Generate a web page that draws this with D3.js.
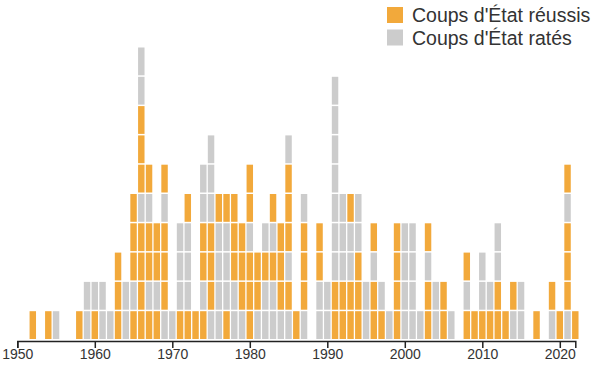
<!DOCTYPE html>
<html>
<head>
<meta charset="utf-8">
<script src="https://cdnjs.cloudflare.com/ajax/libs/d3/7.8.5/d3.min.js"></script>
<style>
  body { margin: 0; background: white; }
  svg { display: block; font-family: "Liberation Sans", Arial, sans-serif; }
</style>
</head>
<body>
<div id="main"></div>
<script>
// one entry per year, coups listed bottom to top: R = réussi, E = raté
var years = [1952, 1954, 1955, 1958, 1959, 1960, 1961, 1962, 1963, 1964,
             1965, 1966, 1967, 1968, 1969, 1970, 1971, 1972, 1973, 1974,
             1975, 1976, 1977, 1978, 1979, 1980, 1981, 1982, 1983, 1984,
             1985, 1986, 1987, 1989, 1990, 1991, 1992, 1993, 1994, 1995,
             1996, 1997, 1998, 1999, 2000, 2001, 2002, 2003, 2004, 2005,
             2006, 2008, 2009, 2010, 2011, 2012, 2013, 2014, 2015, 2017,
             2019, 2020, 2021, 2022];
var coups = ["R", "R", "E", "R", "EE", "RE", "EE", "E", "RRR", "EE",
             "RERRR", "RRRRERRREE", "RERRER", "RERR", "ERRRER", "E", "REEE", "REEER", "R", "RERREE",
             "ERRREEE", "EEEER", "REEER", "EERRR", "ERRR", "RRRERR", "ERR", "EERE", "EERER", "ERRR",
             "ERERRRE", "R", "ERRRE", "EERR", "EE", "RREEEEEEE", "RREEE", "RREER", "RRREE", "EE",
             "RRER", "RE", "E", "RRRR", "EEEE", "EEEE", "E", "RRER", "EE", "RR",
             "E", "RER", "R", "REE", "RE", "RREE", "R", "ER", "EE", "R",
             "ER", "R", "ERRRER", "R"];
var legendLabels = ["Coups d'État réussis", "Coups d'État ratés"];
var xTicks = [1950, 1960, 1970, 1980, 1990, 2000, 2010, 2020];

var width = 600,
    height = 372;
var colors = {R: "#f2a93b", E: "#cccccc"};

var svg = d3.select("#main")
  .append("svg")
  .attr("width", width)
  .attr("height", height);

var x = d3.scaleLinear().domain([1950, 2022]).range([17.3, 575.3]);
var y = d3.scaleLinear().domain([0, 10]).range([340.5, 47.5]);

/* one cell per coup */
var cells = [];
years.forEach(function(yr, ix){
  coups[ix].split("").forEach(function(c, row){
    cells.push({year: yr, row: row, type: c});
  });
});

var step = x(1951) - x(1950),
    cellW = step - 1.3;

svg.append("g")
  .selectAll("rect")
  .data(cells)
.enter().append("rect")
  .attr("x", function(d){ return x(d.year) - cellW / 2; })
  .attr("y", function(d){ return y(d.row + 1); })
  .attr("width", cellW)
  .attr("height", function(d){ return y(d.row) - y(d.row + 1) - 1.5; })
  .style("fill", function(d){ return colors[d.type]; });

/* axis */
var axis = svg.append("g")
  .attr("transform", "translate(0,341)")
  .call(d3.axisBottom(x)
    .tickValues(xTicks)
    .tickFormat(d3.format("d"))
    .tickSize(7)
    .tickSizeOuter(7));
axis.select(".domain").attr("stroke", "#222").attr("stroke-width", 1.5);
axis.selectAll(".tick line").attr("stroke", "#222").attr("stroke-width", 1.5);
axis.selectAll(".tick text")
  .attr("y", 8)
  .style("font-size", "14px")
  .style("font-family", "Liberation Sans, Arial, sans-serif")
  .style("fill", "#333");

/* legend */
var legend = svg.append("g")
  .selectAll("g")
  .data(legendLabels)
.enter().append("g")
  .attr("transform", function(d, ix){ return "translate(387," + (7 + ix * 22.5) + ")"; });
legend.append("rect")
  .attr("width", 16)
  .attr("height", 16)
  .style("fill", function(d, ix){ return ix == 0 ? colors.R : colors.E; });
legend.append("text")
  .attr("x", 25)
  .attr("y", 15)
  .style("font-size", "19.5px")
  .style("fill", "#333")
  .text(function(d){ return d; });
</script>
</body>
</html>
